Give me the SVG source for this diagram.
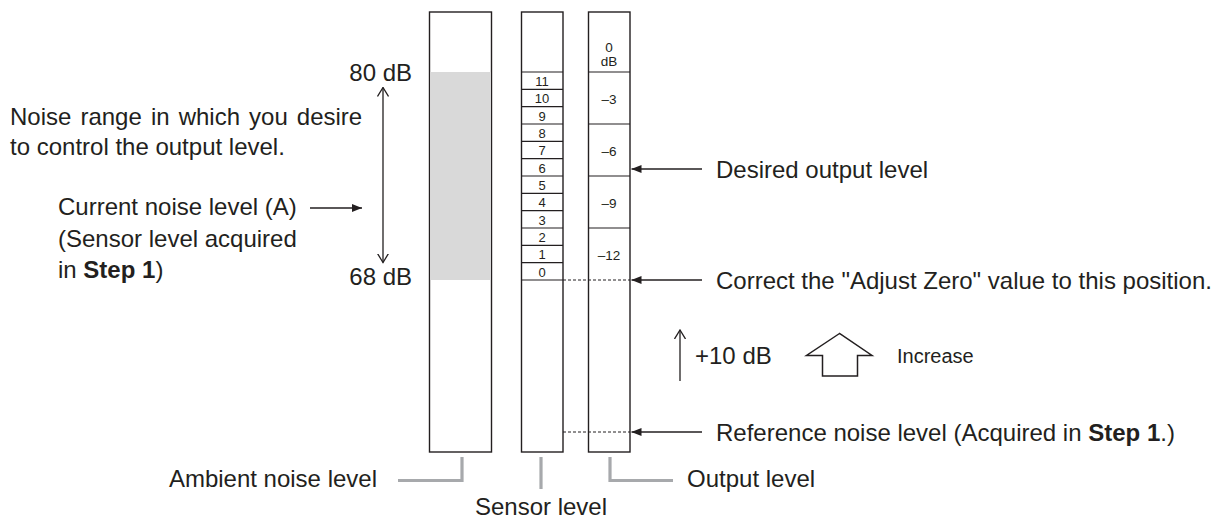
<svg xmlns="http://www.w3.org/2000/svg" width="1222" height="520" viewBox="0 0 1222 520">
<defs>
<style>
text{font-family:"Liberation Sans",Arial,Helvetica,sans-serif;fill:#231f20;}
.t{font-size:24px;}
.s{font-size:13px;text-anchor:middle;}
.o{font-size:13.5px;text-anchor:middle;}
.bar{fill:#fff;stroke:#231f20;stroke-width:1.4;}
.cell{stroke:#231f20;stroke-width:1.2;fill:none;}
.dash{stroke:#231f20;stroke-width:1;stroke-dasharray:3 2;fill:none;}
.ln{stroke:#231f20;stroke-width:1.3;fill:none;}
.br{stroke:#a7a9ac;stroke-width:3.2;fill:none;}
</style>
<marker id="tri" viewBox="0 0 10 8" refX="10" refY="4" markerWidth="10" markerHeight="8" markerUnits="userSpaceOnUse" orient="auto">
<path d="M0,0 L10,4 L0,8 Z" fill="#231f20"/>
</marker>
<marker id="vee" viewBox="0 0 10 12" refX="9" refY="6" markerWidth="10" markerHeight="12" markerUnits="userSpaceOnUse" orient="auto">
<path d="M0,0.5 L9,6 L0,11.5" fill="none" stroke="#231f20" stroke-width="1.3"/>
</marker>
</defs>
<rect width="1222" height="520" fill="#fff"/>

<g id="ambient">
<rect class="bar" x="429.5" y="12" width="62" height="440"/>
<rect x="430.2" y="72" width="60.6" height="208" fill="#d9d9d9"/>
</g>

<g id="sensor">
<rect class="bar" x="521.5" y="12" width="41.5" height="440"/>
<path class="cell" d="M521.5,72H563M521.5,89.3H563M521.5,106.7H563M521.5,124H563M521.5,141.3H563M521.5,158.7H563M521.5,176H563M521.5,193.3H563M521.5,210.7H563M521.5,228H563M521.5,245.3H563M521.5,262.7H563M521.5,280H563"/>
<text class="s" x="542" y="86">11</text>
<text class="s" x="542" y="103.3">10</text>
<text class="s" x="542" y="120.7">9</text>
<text class="s" x="542" y="138">8</text>
<text class="s" x="542" y="155.3">7</text>
<text class="s" x="542" y="172.7">6</text>
<text class="s" x="542" y="190">5</text>
<text class="s" x="542" y="207.3">4</text>
<text class="s" x="542" y="224.7">3</text>
<text class="s" x="542" y="242">2</text>
<text class="s" x="542" y="259.3">1</text>
<text class="s" x="542" y="276.7">0</text>
</g>

<g id="output">
<rect class="bar" x="588.5" y="12" width="41.5" height="440"/>
<path class="cell" d="M588.5,72H630M588.5,124H630M588.5,176H630M588.5,228H630"/>
<text class="o" x="609" y="51.5">0</text>
<text class="o" x="609" y="65.5">dB</text>
<text class="o" x="609" y="103.5">–3</text>
<text class="o" x="609" y="155.5">–6</text>
<text class="o" x="609" y="207.5">–9</text>
<text class="o" x="609" y="259.5">–12</text>
</g>

<g id="left-labels">
<text class="t" x="10" y="125" word-spacing="2.4">Noise range in which you desire</text>
<text class="t" x="10" y="155">to control the output level.</text>
<text class="t" x="58" y="215">Current noise level (A)</text>
<text class="t" x="58" y="247">(Sensor level acquired</text>
<text class="t" x="58" y="278">in <tspan font-weight="bold">Step 1</tspan>)</text>
<text class="t" x="412" y="81" text-anchor="end">80 dB</text>
<text class="t" x="412" y="285" text-anchor="end">68 dB</text>
</g>

<g id="right-labels">
<text class="t" x="716" y="178">Desired output level</text>
<text class="t" x="716" y="289">Correct the "Adjust Zero" value to this position.</text>
<text class="t" x="716" y="441">Reference noise level (Acquired in <tspan font-weight="bold">Step 1</tspan>.)</text>
</g>

<g id="increase">
<text class="t" x="695" y="364">+10 dB</text>
<polygon points="839.5,333.5 806.5,355.5 822.5,355.5 822.5,376 857.5,376 857.5,355.5 872,355.5" fill="#fff" stroke="#231f20" stroke-width="1.5" stroke-linejoin="miter"/>
<text x="897" y="363" font-size="20">Increase</text>
</g>

<g id="bottom-labels">
<text class="t" x="377" y="487" text-anchor="end">Ambient noise level</text>
<text class="t" x="541" y="515" text-anchor="middle">Sensor level</text>
<text class="t" x="687" y="487">Output level</text>
</g>

<g id="connectors">
<path class="dash" d="M563,280H630M563,432H630"/>
<line class="ln" x1="702" y1="169" x2="631.5" y2="169" marker-end="url(#tri)"/>
<line class="ln" x1="702" y1="280" x2="631.5" y2="280" marker-end="url(#tri)"/>
<line class="ln" x1="702" y1="432" x2="631.5" y2="432" marker-end="url(#tri)"/>
<line class="ln" x1="310" y1="208" x2="362" y2="208" marker-end="url(#tri)"/>
<line class="ln" x1="383" y1="175" x2="383" y2="87.5" marker-end="url(#vee)"/>
<line class="ln" x1="383" y1="175" x2="383" y2="262.5" marker-end="url(#vee)"/>
<line class="ln" x1="680" y1="381" x2="680" y2="330" marker-end="url(#vee)"/>
<path class="br" d="M462,457V480.5H398"/>
<path class="br" d="M541,457V489"/>
<path class="br" d="M610,457V480.5H673"/>
</g>
</svg>
